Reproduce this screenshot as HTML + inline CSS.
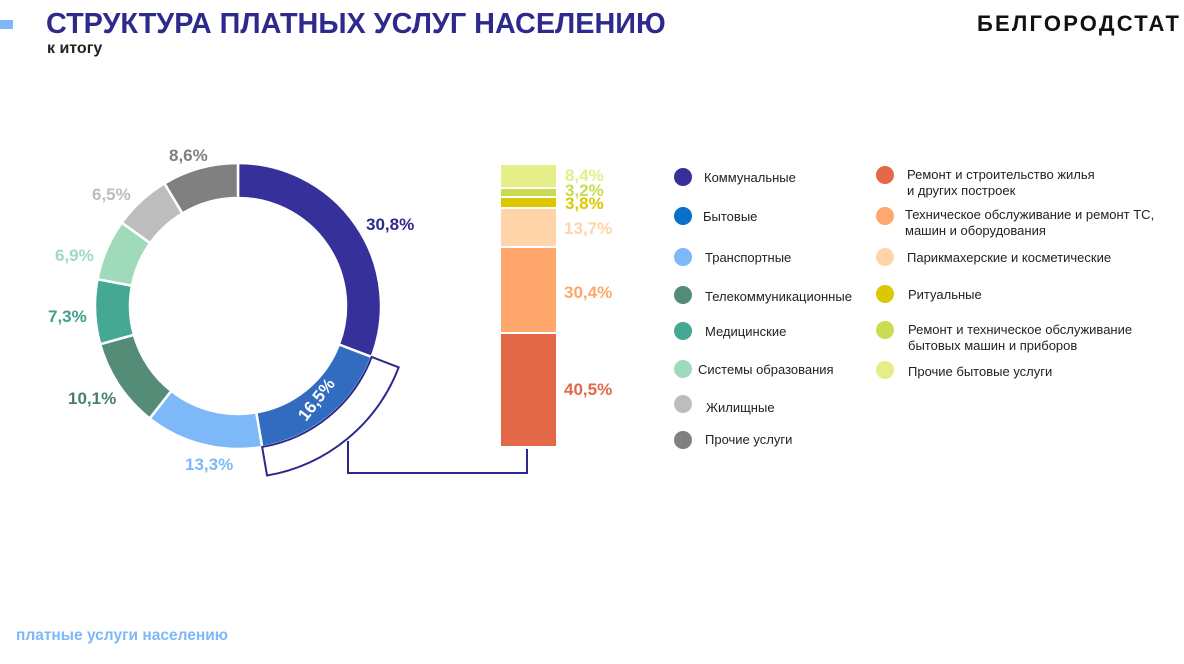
<!DOCTYPE html>
<html><head><meta charset="utf-8">
<style>
body{margin:0;width:1184px;height:664px;background:#fff;overflow:hidden;position:relative;font-family:"Liberation Sans",sans-serif}
.t{position:absolute;white-space:nowrap}
.lg{position:absolute;font-size:13px;color:#222;line-height:16px;white-space:nowrap}
.dot{position:absolute;width:18px;height:18px;border-radius:50%}
</style></head><body>
<div class="t" style="left:0;top:20px;width:13px;height:9px;background:#7DB8F8"></div>
<div class="t" style="left:46px;top:8px;font-size:28.8px;font-weight:bold;color:#2E2A8C;font-family:'Liberation Sans Narrow','Liberation Sans',sans-serif">СТРУКТУРА ПЛАТНЫХ УСЛУГ НАСЕЛЕНИЮ</div>
<div class="t" style="left:47px;top:40px;font-size:16px;font-weight:bold;color:#222;font-family:'Liberation Sans Narrow','Liberation Sans',sans-serif">к итогу</div>
<div class="t" style="left:977px;top:11px;font-size:22px;font-weight:bold;color:#111;letter-spacing:2.2px">БЕЛГОРОДСТАТ</div>
<div class="t" style="left:16px;top:627px;font-size:15.5px;font-weight:bold;color:#7DB8F8">платные услуги населению</div>

<svg id="s" width="1184" height="664" style="position:absolute;left:0;top:0" font-family="Liberation Sans, sans-serif" font-weight="bold" font-size="17"></svg>

<div class="dot" style="left:674px;top:168px;background:#35309A"></div><div class="lg" style="left:704px;top:170px">Коммунальные</div>
<div class="dot" style="left:674px;top:207px;background:#0870C8"></div><div class="lg" style="left:703px;top:209px">Бытовые</div>
<div class="dot" style="left:674px;top:248px;background:#7DB8F8"></div><div class="lg" style="left:705px;top:250px">Транспортные</div>
<div class="dot" style="left:674px;top:286px;background:#548C78"></div><div class="lg" style="left:705px;top:289px">Телекоммуникационные</div>
<div class="dot" style="left:674px;top:322px;background:#45A893"></div><div class="lg" style="left:705px;top:324px">Медицинские</div>
<div class="dot" style="left:674px;top:360px;background:#9FDBBB"></div><div class="lg" style="left:698px;top:362px">Системы образования</div>
<div class="dot" style="left:674px;top:395px;background:#BDBDBD"></div><div class="lg" style="left:706px;top:400px">Жилищные</div>
<div class="dot" style="left:674px;top:431px;background:#808080"></div><div class="lg" style="left:705px;top:432px">Прочие услуги</div>

<div class="dot" style="left:876px;top:166px;background:#E36847"></div><div class="lg" style="left:907px;top:167px">Ремонт и строительство жилья<br>и других построек</div>
<div class="dot" style="left:876px;top:207px;background:#FFA76C"></div><div class="lg" style="left:905px;top:207px">Техническое обслуживание и ремонт ТС,<br>машин и оборудования</div>
<div class="dot" style="left:876px;top:248px;background:#FFD4A8"></div><div class="lg" style="left:907px;top:250px">Парикмахерские и косметические</div>
<div class="dot" style="left:876px;top:285px;background:#DCC800"></div><div class="lg" style="left:908px;top:287px">Ритуальные</div>
<div class="dot" style="left:876px;top:321px;background:#CCDC50"></div><div class="lg" style="left:908px;top:322px">Ремонт и техническое обслуживание<br>бытовых машин и приборов</div>
<div class="dot" style="left:876px;top:361px;background:#E5EE88"></div><div class="lg" style="left:908px;top:364px">Прочие бытовые услуги</div>

<script>
var s=document.getElementById('s'),cx=238,cy=306,R=143,r=108;
function P(a,rad){a=a*Math.PI/180;return [(cx+rad*Math.sin(a)).toFixed(2),(cy-rad*Math.cos(a)).toFixed(2)];}
function arc(a0,a1,ro,ri){var l=(a1-a0)>180?1:0,p1=P(a0,ro),p2=P(a1,ro),p3=P(a1,ri),p4=P(a0,ri);
return 'M'+p1+' A'+ro+','+ro+' 0 '+l+' 1 '+p2+' L'+p3+' A'+ri+','+ri+' 0 '+l+' 0 '+p4+' Z';}
var v=[30.8,16.5,13.3,10.1,7.3,6.9,6.5,8.6],c=['#35309A','#316CC0','#7DB8F8','#548C78','#45A893','#9FDBBB','#BDBDBD','#808080'];
var h='',a=0;
for(var i=0;i<v.length;i++){var b=a+v[i]*3.6;h+='<path d="'+arc(a,b,R,r)+'" fill="'+c[i]+'" stroke="#fff" stroke-width="2.5"/>';a=b;}
h+='<path d="'+arc(110.88,170.28,172,R)+'" fill="none" stroke="#2B2A8C" stroke-width="2"/>';
h+='<polyline points="348,441 348,473 527,473 527,449" fill="none" stroke="#2B2A8C" stroke-width="2"/>';
var bars=[[165,187,'#E5EE88'],[189,196,'#C8DA50'],[198,207,'#DCC800'],[209,246,'#FFD4A8'],[248,332,'#FFA76C'],[334,446,'#E36847']];
bars.forEach(function(q){h+='<rect x="501" y="'+q[0]+'" width="55" height="'+(q[1]-q[0])+'" fill="'+q[2]+'"/>';});
var L=[[366,230,'30,8%','#2E2A8C'],[185,470,'13,3%','#7DB8F8'],[68,404,'10,1%','#4A7F6C'],[48,322,'7,3%','#3FA08C'],[55,261,'6,9%','#9FDBBB'],[92,200,'6,5%','#BDBDBD'],[169,161,'8,6%','#808080'],
[565,181,'8,4%','#E5EE88'],[565,196,'3,2%','#C8DA50'],[565,209,'3,8%','#DCC800'],[564,234,'13,7%','#FFD4A8'],[564,298,'30,4%','#FFA76C'],[564,395,'40,5%','#E36847']];
L.forEach(function(q){h+='<text x="'+q[0]+'" y="'+q[1]+'" fill="'+q[3]+'">'+q[2]+'</text>';});
h+='<text x="0" y="0" fill="#fff" transform="translate(306,422) rotate(-52)">16,5%</text>';
s.innerHTML=h;
</script>
</body></html>
